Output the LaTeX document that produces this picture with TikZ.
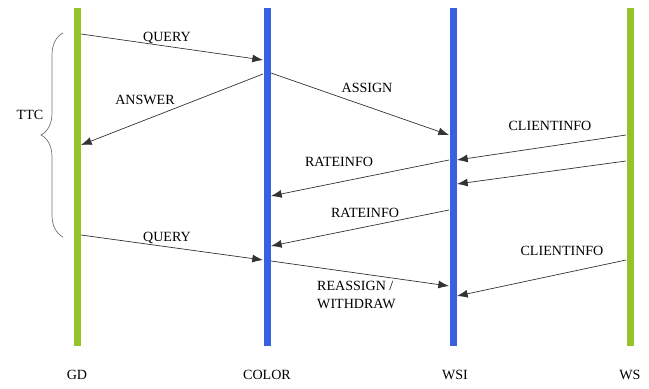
\documentclass[tikz,border=0pt]{standalone}
\usepackage{fontspec}
\setmainfont{Liberation Serif}
\usetikzlibrary{arrows.meta,decorations.pathreplacing}

\definecolor{lifegreen}{RGB}{150,196,40}
\definecolor{lifeblue}{RGB}{58,96,226}

\tikzset{
  lifeline/.style={line width=0.21cm},
  msg/.style={draw=black!80, line width=0.6pt, -{Latex[length=3.2mm,width=2.4mm]}},
  msglabel/.style={font=\rmfamily\fontsize{12}{14}\selectfont, text=black, inner sep=0pt},
}

\begin{document}
\begin{tikzpicture}[x=0.03cm,y=-0.03cm]
\useasboundingbox (0,0) rectangle (649,388);

% lifelines
\coordinate (gdtop) at (77,8);     \coordinate (gdbot) at (77,346);
\coordinate (colortop) at (267,8); \coordinate (colorbot) at (267,346);
\coordinate (wsitop) at (453,8);   \coordinate (wsibot) at (453,346);
\coordinate (wstop) at (630,8);    \coordinate (wsbot) at (630,346);
\draw[lifeline,lifegreen] (gdtop) -- (gdbot);
\draw[lifeline,lifeblue] (colortop) -- (colorbot);
\draw[lifeline,lifeblue] (wsitop) -- (wsibot);
\draw[lifeline,lifegreen] (wstop) -- (wsbot);

\node[msglabel] (gd) at (77,375) {GD};
\node[msglabel] (color) at (267,375) {COLOR};
\node[msglabel] (wsi) at (455,375) {WSI};
\node[msglabel] (ws) at (630,375) {WS};

% message end points
\coordinate (query1a) at (81,34);    \coordinate (query1b) at (263,60);
\coordinate (answera) at (263,74);   \coordinate (answerb) at (81,145);
\coordinate (assigna) at (271,73);   \coordinate (assignb) at (449,135);
\coordinate (client1a) at (626,135); \coordinate (client1b) at (457,160);
\coordinate (rate1a) at (449,160);   \coordinate (rate1b) at (271,196);
\coordinate (client2a) at (626,161); \coordinate (client2b) at (457,184);
\coordinate (rate2a) at (449,210);   \coordinate (rate2b) at (271,246);
\coordinate (query2a) at (81,235);   \coordinate (query2b) at (263,260);
\coordinate (reassigna) at (271,261); \coordinate (reassignb) at (449,286);
\coordinate (client3a) at (626,260); \coordinate (client3b) at (457,296);

\draw[msg] (query1a) -- (query1b);
\draw[msg] (answera) -- (answerb);
\draw[msg] (assigna) -- (assignb);
\draw[msg] (client1a) -- (client1b);
\draw[msg] (rate1a) -- (rate1b);
\draw[msg] (client2a) -- (client2b);
\draw[msg] (rate2a) -- (rate2b);
\draw[msg] (query2a) -- (query2b);
\draw[msg] (reassigna) -- (reassignb);
\draw[msg] (client3a) -- (client3b);

% labels
\node[msglabel] (query1) at (167,38) {QUERY};
\node[msglabel] (answer) at (145,100) {ANSWER};
\node[msglabel] (assign) at (367,88) {ASSIGN};
\node[msglabel] (client1) at (550,126) {CLIENTINFO};
\node[msglabel] (rate1) at (339,162) {RATEINFO};
\node[msglabel] (rate2) at (365,213) {RATEINFO};
\node[msglabel] (query2) at (167,238) {QUERY};
\node[msglabel,align=left,anchor=west,font=\rmfamily\fontsize{12}{16}\selectfont] (reassign) at (317,295) {REASSIGN /\\WITHDRAW};
\node[msglabel] (client3) at (562,251) {CLIENTINFO};

% TTC brace
\coordinate (ttclow) at (63,237);
\coordinate (ttchigh) at (63,33);
\draw[black!55, line width=0.6pt, decorate, decoration={brace,amplitude=0.66cm}] (ttclow) -- (ttchigh);
\node[msglabel] (ttc) at (30,115) {TTC};
\end{tikzpicture}
\end{document}
